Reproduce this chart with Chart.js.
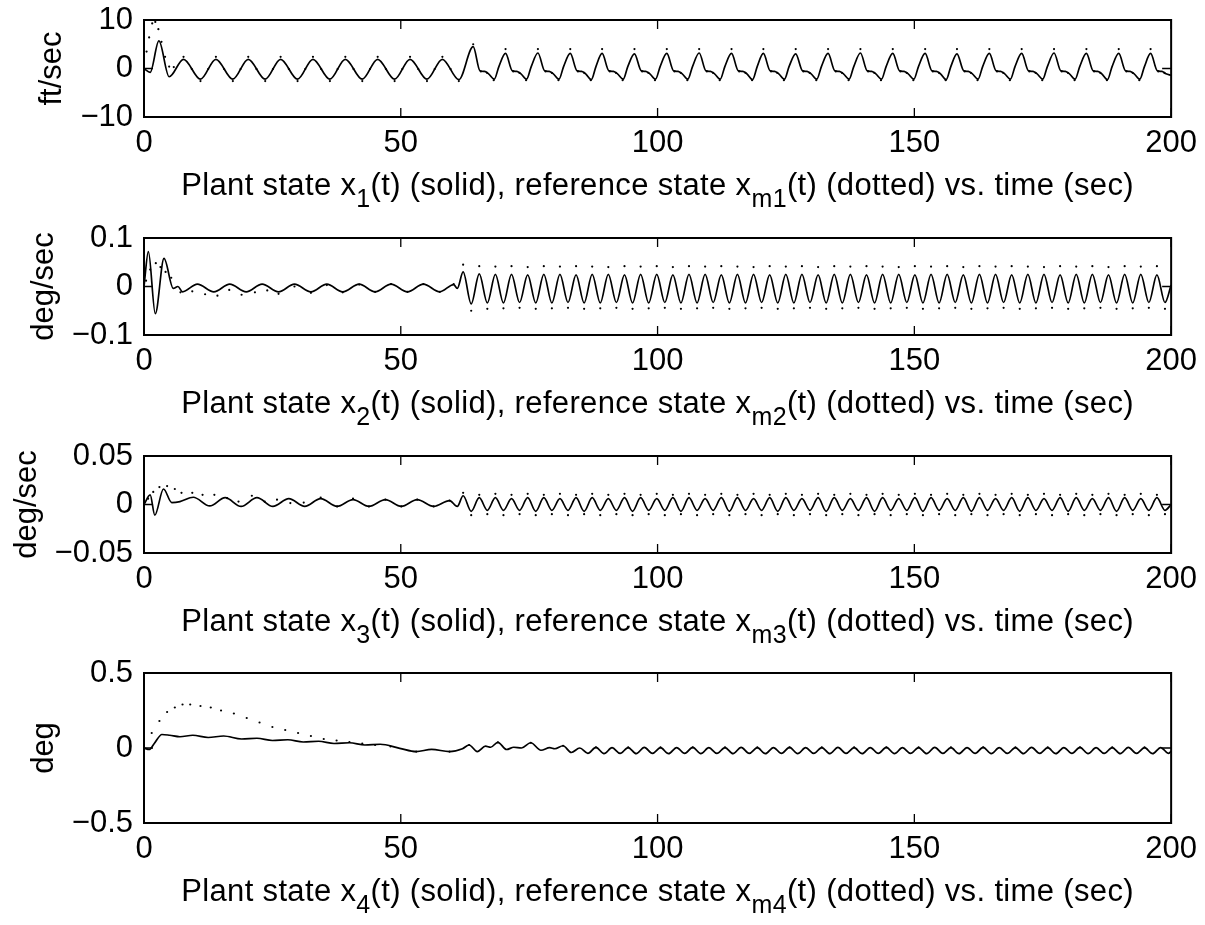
<!DOCTYPE html>
<html>
<head>
<meta charset="utf-8">
<script src="https://cdn.jsdelivr.net/npm/chart.js@4.4.0/dist/chart.umd.min.js"></script>
<style>
  body { margin: 0; background: #fff; width: 1205px; height: 925px; position: relative; overflow: hidden; }
  canvas { position: absolute; left: 0; }
</style>
</head>
<body>
<canvas id="p1"></canvas>
<canvas id="p2"></canvas>
<canvas id="p3"></canvas>
<canvas id="p4"></canvas>
<script>
// ---- axis ticks ----
const xTicks = [0, 50, 100, 150, 200];
const yTicks1 = [-10, 0, 10],      yLabels1 = ['\u221210', '0', '10'];
const yTicks2 = [-0.1, 0, 0.1],    yLabels2 = ['\u22120.1', '0', '0.1'];
const yTicks3 = [-0.05, 0, 0.05],  yLabels3 = ['\u22120.05', '0', '0.05'];
const yTicks4 = [-0.5, 0, 0.5],    yLabels4 = ['\u22120.5', '0', '0.5'];

// ---- x1 (ft/sec) ----
const x1Time = [
  0, 1.2, 2.9, 4.9, 7.7, 11.0, 14.0, 17.3, 20.3, 23.6, 26.6, 29.9, 32.9, 36.2, 39.2, 42.5, 45.5, 48.8, 51.8, 55.1, 58.1, 61.3,
  64.1, 65.4, 66.3, 67.1, 68.2, 69.1,
  70.4, 71.7, 72.6, 73.4, 74.5, 75.4,
  76.7, 78.0, 78.9, 79.7, 80.8, 81.7,
  83.0, 84.3, 85.2, 86.0, 87.1, 88.0,
  89.2, 90.5, 91.4, 92.2, 93.3, 94.2,
  95.5, 96.8, 97.7, 98.5, 99.6, 100.5,
  101.8, 103.1, 104.0, 104.8, 105.9, 106.8,
  108.1, 109.4, 110.3, 111.1, 112.2, 113.1,
  114.4, 115.7, 116.6, 117.4, 118.5, 119.4,
  120.6, 121.9, 122.8, 123.6, 124.7, 125.6,
  126.9, 128.2, 129.1, 129.9, 131.0, 131.9,
  133.2, 134.5, 135.4, 136.2, 137.3, 138.2,
  139.5, 140.8, 141.7, 142.5, 143.6, 144.5,
  145.8, 147.1, 148.0, 148.8, 149.9, 150.8,
  152.1, 153.4, 154.3, 155.1, 156.2, 157.1,
  158.3, 159.6, 160.5, 161.3, 162.4, 163.3,
  164.6, 165.9, 166.8, 167.6, 168.7, 169.6,
  170.9, 172.2, 173.1, 173.9, 175.0, 175.9,
  177.2, 178.5, 179.4, 180.2, 181.3, 182.2,
  183.5, 184.8, 185.7, 186.5, 187.6, 188.5,
  189.8, 191.1, 192.0, 192.8, 193.9, 194.8,
  196.0, 197.3, 198.2, 199.0, 200.0
];
const x1Solid = [
  0, -0.8, 5.7, -1.7, 1.9, -2.2, 1.9, -2.2, 1.9, -2.2, 1.9, -2.2, 1.9, -2.2, 1.9, -2.2, 1.9, -2.2, 1.9, -2.2, 1.9, -2.3,
  4.5, -0.45, -0.6, -1.1, -2.2, 0.4,
  3.1, -0.45, -0.6, -1.1, -2.2, 0.4,
  3.2, -0.45, -0.6, -1.1, -2.2, 0.4,
  3.1, -0.45, -0.6, -1.1, -2.3, 0.4,
  3.1, -0.45, -0.6, -1.1, -2.2, 0.4,
  3.0, -0.45, -0.6, -1.1, -2.2, 0.4,
  3.1, -0.45, -0.6, -1.1, -2.2, 0.4,
  3.2, -0.45, -0.6, -1.1, -2.2, 0.4,
  3.1, -0.45, -0.6, -1.1, -2.3, 0.4,
  3.1, -0.45, -0.6, -1.1, -2.2, 0.4,
  3.0, -0.45, -0.6, -1.1, -2.2, 0.4,
  3.1, -0.45, -0.6, -1.1, -2.2, 0.4,
  3.2, -0.45, -0.6, -1.1, -2.2, 0.4,
  3.1, -0.45, -0.6, -1.1, -2.2, 0.4,
  3.1, -0.45, -0.6, -1.1, -2.3, 0.4,
  3.0, -0.45, -0.6, -1.1, -2.2, 0.4,
  3.1, -0.45, -0.6, -1.1, -2.2, 0.4,
  3.1, -0.45, -0.6, -1.1, -2.2, 0.4,
  3.2, -0.45, -0.6, -1.1, -2.2, 0.4,
  3.1, -0.45, -0.6, -1.1, -2.3, 0.4,
  3.1, -0.45, -0.6, -1.1, -2.2, 0.4,
  3.1, -0.45, -0.6, -1.1, -1.4
];
const x1DotTime = [
  0, 0.5, 1.0, 1.6, 2.2, 2.8, 3.4, 4.1, 4.9, 5.8,
  7.7, 9.3, 11.0, 12.5, 14.0, 15.6, 17.3, 18.8, 20.3, 21.9, 23.6, 25.1, 26.6, 28.2, 29.9, 31.4,
  32.9, 34.5, 36.2, 37.7, 39.2, 40.8, 42.5, 44.0, 45.5, 47.1, 48.8, 50.3, 51.8, 53.4, 55.1, 56.6,
  58.1, 59.7, 61.3,
  64.1, 65.6, 66.8, 68.1,
  70.4, 71.9, 73.1, 74.4,
  76.7, 78.2, 79.4, 80.7,
  83.0, 84.5, 85.7, 87.0,
  89.2, 90.7, 91.9, 93.2,
  95.5, 97.0, 98.2, 99.5,
  101.8, 103.3, 104.5, 105.8,
  108.1, 109.6, 110.8, 112.1,
  114.4, 115.9, 117.1, 118.4,
  120.6, 122.1, 123.3, 124.6,
  126.9, 128.4, 129.6, 130.9,
  133.2, 134.7, 135.9, 137.2,
  139.5, 141.0, 142.2, 143.5,
  145.8, 147.3, 148.5, 149.8,
  152.1, 153.6, 154.8, 156.1,
  158.3, 159.8, 161.0, 162.3,
  164.6, 166.1, 167.3, 168.6,
  170.9, 172.4, 173.6, 174.9,
  177.2, 178.7, 179.9, 181.2,
  183.5, 185.0, 186.2, 187.5,
  189.8, 191.3, 192.5, 193.8,
  196.0, 197.5, 198.7
];
const x1Dotted = [
  0, 3.5, 6.4, 9.3, 9.6, 8.1, 5.5, 2.4, 0.4, 0.3,
  2.4, -0.1, -2.6, -0.1, 2.4, -0.1, -2.6, -0.1, 2.4, -0.1, -2.6, -0.1, 2.4, -0.1, -2.6, -0.1,
  2.4, -0.1, -2.6, -0.1, 2.4, -0.1, -2.6, -0.1, 2.4, -0.1, -2.6, -0.1, 2.4, -0.1, -2.6, -0.1,
  2.4, -0.1, -2.6,
  5.0, -0.6, -0.9, -2.4,
  4.0, -0.6, -0.9, -2.4,
  4.0, -0.6, -0.9, -2.4,
  4.0, -0.6, -0.9, -2.4,
  4.0, -0.6, -0.9, -2.4,
  4.0, -0.6, -0.9, -2.4,
  4.0, -0.6, -0.9, -2.4,
  4.0, -0.6, -0.9, -2.4,
  4.0, -0.6, -0.9, -2.4,
  4.0, -0.6, -0.9, -2.4,
  4.0, -0.6, -0.9, -2.4,
  4.0, -0.6, -0.9, -2.4,
  4.0, -0.6, -0.9, -2.4,
  4.0, -0.6, -0.9, -2.4,
  4.0, -0.6, -0.9, -2.4,
  4.0, -0.6, -0.9, -2.4,
  4.0, -0.6, -0.9, -2.4,
  4.0, -0.6, -0.9, -2.4,
  4.0, -0.6, -0.9, -2.4,
  4.0, -0.6, -0.9, -2.4,
  4.0, -0.6, -0.9, -2.4,
  4.0, -0.6, -0.9
];

// ---- fast oscillation after t = 62 (peaks / troughs), shared by x2, x3 ----
const fastTime = [
  62.14, 63.71, 65.28, 66.85, 68.42, 69.99, 71.56, 73.13, 74.71, 76.28,
  77.85, 79.42, 80.99, 82.56, 84.13, 85.70, 87.27, 88.84, 90.41, 91.98,
  93.56, 95.13, 96.70, 98.27, 99.84, 101.41, 102.98, 104.55, 106.12, 107.69,
  109.26, 110.83, 112.41, 113.98, 115.55, 117.12, 118.69, 120.26, 121.83, 123.40,
  124.97, 126.54, 128.11, 129.68, 131.26, 132.83, 134.40, 135.97, 137.54, 139.11,
  140.68, 142.25, 143.82, 145.39, 146.96, 148.53, 150.10, 151.67, 153.25, 154.82,
  156.39, 157.96, 159.53, 161.10, 162.67, 164.24, 165.81, 167.38, 168.95, 170.52,
  172.10, 173.67, 175.24, 176.81, 178.38, 179.95, 181.52, 183.09, 184.66, 186.23,
  187.80, 189.37, 190.95, 192.52, 194.09, 195.66, 197.23, 198.80
];

// ---- x2 (deg/sec) ----
const x2EarlyTime = [0, 0.85, 2.2, 3.9, 5.7, 6.6, 7.5, 10.4, 13.6, 16.7, 19.9, 23.0, 26.2, 29.3, 32.5,
  35.6, 38.7, 41.9, 45.0, 48.1, 51.3, 54.4, 57.6, 60.3, 61.0];
const x2EarlySolid = [0, 0.072, -0.056, 0.058, -0.004, 0.0, -0.011, 0.005, -0.011, 0.005, -0.011, 0.005, -0.011, 0.005, -0.011,
  0.005, -0.011, 0.005, -0.011, 0.005, -0.011, 0.005, -0.011, 0.004, -0.004];
const x2FastSolid = [
  0.030, -0.036, 0.026, -0.034, 0.025, -0.034, 0.025, -0.033, 0.024, -0.034,
  0.025, -0.034, 0.025, -0.033, 0.024, -0.034, 0.025, -0.034, 0.025, -0.033,
  0.024, -0.034, 0.025, -0.034, 0.025, -0.033, 0.024, -0.034, 0.025, -0.034,
  0.025, -0.033, 0.024, -0.034, 0.025, -0.034, 0.025, -0.033, 0.024, -0.034,
  0.025, -0.034, 0.025, -0.033, 0.024, -0.034, 0.025, -0.034, 0.025, -0.033,
  0.024, -0.034, 0.025, -0.034, 0.025, -0.033, 0.024, -0.034, 0.025, -0.034,
  0.025, -0.033, 0.024, -0.034, 0.025, -0.034, 0.025, -0.033, 0.024, -0.034,
  0.025, -0.034, 0.025, -0.033, 0.024, -0.034, 0.025, -0.034, 0.025, -0.033,
  0.024, -0.034, 0.025, -0.034, 0.025, -0.033, 0.024, -0.033
];
const x2EndTime = [200], x2EndSolid = [0.003];
const x2DotEarlyTime = [0, 0.4, 1.2, 2.3, 3.2, 4.2, 5.3, 7.1, 9.4, 11.9, 14.3, 16.6, 19.0, 21.6, 24.0, 26.2,
  29.3, 32.5, 35.6, 38.7, 41.9, 45.0, 48.1, 51.3, 54.4, 57.6, 60.3];
const x2DotEarly = [0, 0.012, 0.035, 0.048, 0.040, 0.030, 0.018, -0.012, -0.010, -0.016, -0.019, -0.007, -0.017, -0.012, -0.008, -0.015,
  0.0, -0.013, 0.003, -0.012, 0.004, -0.011, 0.005, -0.011, 0.005, -0.011, 0.005];
const x2FastDotted = [
  0.045, -0.050, 0.042, -0.046, 0.041, -0.045, 0.042, -0.044, 0.040, -0.046,
  0.042, -0.045, 0.041, -0.044, 0.042, -0.046, 0.041, -0.045, 0.040, -0.044,
  0.042, -0.046, 0.041, -0.045, 0.042, -0.044, 0.040, -0.046, 0.042, -0.045,
  0.041, -0.044, 0.042, -0.046, 0.041, -0.045, 0.040, -0.044, 0.042, -0.046,
  0.041, -0.045, 0.042, -0.044, 0.040, -0.046, 0.042, -0.045, 0.041, -0.044,
  0.042, -0.046, 0.041, -0.045, 0.040, -0.044, 0.042, -0.046, 0.041, -0.045,
  0.042, -0.044, 0.040, -0.046, 0.042, -0.045, 0.041, -0.044, 0.042, -0.046,
  0.041, -0.045, 0.040, -0.044, 0.042, -0.046, 0.041, -0.045, 0.042, -0.044,
  0.040, -0.046, 0.042, -0.045, 0.041, -0.044, 0.042, -0.046
];

// ---- x3 (deg/sec) ----
const x3EarlyTime = [0, 1.2, 2.1, 3.8, 5.4, 7.0, 9.6, 12.8, 15.8, 18.9, 22.0, 25.1, 28.2, 31.3, 34.4, 37.6,
  40.7, 43.8, 47.0, 50.1, 53.2, 56.4, 59.5, 61.0];
const x3EarlySolid = [0, 0.010, -0.011, 0.016, 0.002, 0.003, 0.0075, -0.0015, 0.007, -0.002, 0.007, -0.002, 0.006, -0.002, 0.006, -0.002,
  0.005, -0.002, 0.005, -0.002, 0.005, -0.002, 0.004, -0.002];
const x3FastSolid = [
  0.009, -0.007, 0.007, -0.006, 0.007, -0.006, 0.006, -0.006, 0.007, -0.007,
  0.007, -0.006, 0.006, -0.006, 0.007, -0.007, 0.007, -0.006, 0.006, -0.006,
  0.007, -0.007, 0.007, -0.006, 0.006, -0.006, 0.007, -0.007, 0.007, -0.006,
  0.006, -0.006, 0.007, -0.007, 0.007, -0.006, 0.006, -0.006, 0.007, -0.007,
  0.007, -0.006, 0.006, -0.006, 0.007, -0.007, 0.007, -0.006, 0.006, -0.006,
  0.007, -0.007, 0.007, -0.006, 0.006, -0.006, 0.007, -0.007, 0.007, -0.006,
  0.006, -0.006, 0.007, -0.007, 0.007, -0.006, 0.006, -0.006, 0.007, -0.007,
  0.007, -0.006, 0.006, -0.006, 0.007, -0.007, 0.007, -0.006, 0.006, -0.006,
  0.007, -0.007, 0.007, -0.006, 0.006, -0.006, 0.007, -0.006
];
const x3EndTime = [200], x3EndSolid = [0.0];
const x3DotEarlyTime = [0, 0.8, 1.8, 3.0, 4.5, 6.0, 7.3, 9.4, 11.4, 13.7, 16.2, 18.4, 21.0, 23.5, 25.9, 28.5,
  31.1, 34.4, 37.6, 40.7, 43.8, 47.0, 50.1, 53.2, 56.4, 59.5];
const x3DotEarly = [0, 0.006, 0.013, 0.018, 0.019, 0.016, 0.012, 0.012, 0.010, 0.010, 0.0065, 0.003, 0.009, 0.003, 0.005, 0.0015,
  0.002, 0.007, -0.002, 0.006, -0.002, 0.005, -0.002, 0.005, -0.002, 0.004];
const x3FastDotted = [
  0.012, -0.011, 0.010, -0.010, 0.011, -0.011, 0.010, -0.010, 0.011, -0.011,
  0.010, -0.010, 0.011, -0.011, 0.010, -0.010, 0.011, -0.011, 0.010, -0.010,
  0.011, -0.011, 0.010, -0.010, 0.011, -0.011, 0.010, -0.010, 0.011, -0.011,
  0.010, -0.010, 0.011, -0.011, 0.010, -0.010, 0.011, -0.011, 0.010, -0.010,
  0.011, -0.011, 0.010, -0.010, 0.011, -0.011, 0.010, -0.010, 0.011, -0.011,
  0.010, -0.010, 0.011, -0.011, 0.010, -0.010, 0.011, -0.011, 0.010, -0.010,
  0.011, -0.011, 0.010, -0.010, 0.011, -0.011, 0.010, -0.010, 0.011, -0.011,
  0.010, -0.010, 0.011, -0.011, 0.010, -0.010, 0.011, -0.011, 0.010, -0.010,
  0.011, -0.011, 0.010, -0.010, 0.011, -0.011, 0.010, -0.010
];

// ---- x4 (deg) ----
const x4Time = [
  0, 1.0, 2.0, 3.5, 5.0, 7.0, 9.5, 12.5, 15.5, 19.0,
  22.0, 25.0, 28.0, 31.0, 34.0, 37.0, 40.0, 43.0, 46.0, 49.8,
  53.0, 56.0, 59.5, 62.0, 63.3, 64.9, 66.5, 67.5, 68.9, 70.6,
  72.0, 73.5, 75.3, 77.3, 79.0, 80.0, 81.6, 83.2, 84.85,
  86.43, 88.00, 89.57, 91.14, 92.71, 94.28, 95.85, 97.42, 98.99, 100.57,
  102.14, 103.71, 105.28, 106.85, 108.42, 109.99, 111.56, 113.13, 114.70, 116.27,
  117.84, 119.42, 120.99, 122.56, 124.13, 125.70, 127.27, 128.84, 130.41, 131.98,
  133.55, 135.12, 136.69, 138.27, 139.84, 141.41, 142.98, 144.55, 146.12, 147.69,
  149.26, 150.83, 152.40, 153.97, 155.54, 157.12, 158.69, 160.26, 161.83, 163.40,
  164.97, 166.54, 168.11, 169.68, 171.25, 172.82, 174.39, 175.97, 177.54, 179.11,
  180.68, 182.25, 183.82, 185.39, 186.96, 188.53, 190.10, 191.67, 193.24, 194.82,
  196.39, 197.96, 199.53, 200
];
const x4Solid = [
  0, -0.01, 0.03, 0.09, 0.085, 0.075, 0.085, 0.07, 0.08, 0.06,
  0.065, 0.05, 0.055, 0.04, 0.045, 0.03, 0.035, 0.02, 0.025, -0.002,
  -0.024, -0.009, -0.024, -0.005, 0.02, -0.024, 0.012, 0.005, 0.038, -0.01,
  0.005, 0.0, 0.035, -0.015, 0.002, -0.005, 0.015, -0.03, 0.0,
  -0.036, 0.004, -0.038, 0.002, -0.036, 0.003, -0.038, 0.004, -0.036, 0.002,
  -0.038, 0.003, -0.036, 0.004, -0.038, 0.002, -0.036, 0.003, -0.038, 0.004,
  -0.036, 0.002, -0.038, 0.003, -0.036, 0.004, -0.038, 0.002, -0.036, 0.003,
  -0.038, 0.004, -0.036, 0.002, -0.038, 0.003, -0.036, 0.004, -0.038, 0.002,
  -0.036, 0.003, -0.038, 0.004, -0.036, 0.002, -0.038, 0.003, -0.036, 0.004,
  -0.038, 0.002, -0.036, 0.003, -0.038, 0.004, -0.036, 0.002, -0.038, 0.003,
  -0.036, 0.004, -0.038, 0.002, -0.036, 0.003, -0.038, 0.004, -0.036, 0.002,
  -0.038, 0.003, -0.036, -0.02
];
const x4DotTime = [
  0, 1.5, 3.0, 4.5, 6.0, 7.5, 9.0, 11.0, 13.0, 15.0, 17.5, 20.0, 22.5, 25.0, 27.5, 30.0,
  32.5, 35.0, 37.5, 40.0, 42.5, 45.0, 48.0,
  53.0, 59.5, 63.3, 68.9, 75.3, 81.6,
  88.00, 94.28, 100.57, 106.85, 113.13, 119.42, 125.70, 131.98, 138.27, 144.55,
  150.83, 157.12, 163.40, 169.68, 175.97, 182.25, 188.53, 194.82
];
const x4Dotted = [
  0, 0.10, 0.18, 0.24, 0.27, 0.29, 0.29, 0.28, 0.27, 0.25, 0.23, 0.20, 0.17, 0.14, 0.12, 0.10,
  0.08, 0.06, 0.05, 0.04, 0.03, 0.02, 0.01,
  -0.024, -0.024, 0.02, 0.038, 0.035, 0.015,
  0.004, 0.004, 0.004, 0.004, 0.004, 0.004, 0.004, 0.004, 0.004, 0.004,
  0.004, 0.004, 0.004, 0.004, 0.004, 0.004, 0.004, 0.004
];

// ---- build ----
const FONT = '"Liberation Sans", Arial, Helvetica, sans-serif';
Chart.defaults.font.family = FONT;
Chart.defaults.font.size = 31;
Chart.defaults.color = '#000';

const TOP_PAD = 40;   // room above each box (more than the y-axis label overhang)
const BOTTOM = 100;   // room under each box for tick labels + x title

function pts(ts, vs) {
  return ts.map((t, i) => ({ x: t, y: vs[i] }));
}

function makePanel(id, boxTop, boxH, solid, dotted, yTicks, yLabels, yTitle, n) {
  const canvas = document.getElementById(id);
  canvas.width = 1205;
  canvas.height = TOP_PAD + boxH + BOTTOM;
  canvas.style.top = (boxTop - TOP_PAD) + 'px';

  const frame = {
    id: 'frame' + n,
    afterDraw(chart) {
      const { ctx, chartArea: a } = chart;
      const xs = chart.scales.x, ys = chart.scales.y;
      ctx.save();
      ctx.strokeStyle = '#000';
      ctx.lineWidth = 1.3;
      ctx.beginPath();
      xTicks.forEach(v => {
        const p = xs.getPixelForValue(v);
        ctx.moveTo(p, a.bottom); ctx.lineTo(p, a.bottom - 9);
        ctx.moveTo(p, a.top); ctx.lineTo(p, a.top + 9);
      });
      yTicks.forEach(v => {
        const p = ys.getPixelForValue(v);
        ctx.moveTo(a.left, p); ctx.lineTo(a.left + 9, p);
        ctx.moveTo(a.right, p); ctx.lineTo(a.right - 9, p);
      });
      ctx.stroke();
      ctx.lineWidth = 2;
      ctx.strokeRect(a.left, a.top, a.right - a.left, a.bottom - a.top);

      // y title, just left of the widest tick label
      ctx.fillStyle = '#000';
      ctx.font = '31px ' + FONT;
      const wMax = Math.max(...yLabels.map(s => ctx.measureText(s).width));
      ctx.save();
      ctx.translate(a.left - 11 - wMax - 19, (a.top + a.bottom) / 2);
      ctx.rotate(-Math.PI / 2);
      ctx.textAlign = 'center';
      ctx.textBaseline = 'alphabetic';
      ctx.fillText(yTitle, 0, 0);
      ctx.restore();

      // x title with subscripts
      const parts = [
        ['Plant state x', false], [n, true], ['(t) (solid), reference state x', false],
        ['m' + n, true], ['(t) (dotted) vs. time (sec)', false]
      ];
      if ('letterSpacing' in ctx) ctx.letterSpacing = '0.35px';
      let w = 0;
      parts.forEach(([s, sub]) => {
        ctx.font = (sub ? '25px ' : '31px ') + FONT;
        w += ctx.measureText(s).width;
      });
      let x = (a.left + a.right) / 2 - w / 2;
      const base = a.bottom + 78;
      ctx.textAlign = 'left';
      ctx.textBaseline = 'alphabetic';
      parts.forEach(([s, sub]) => {
        ctx.font = (sub ? '25px ' : '31px ') + FONT;
        ctx.fillText(s, x, sub ? base + 12 : base);
        x += ctx.measureText(s).width;
      });
      ctx.restore();
    }
  };

  return new Chart(canvas, {
    type: 'line',
    data: {
      datasets: [
        { data: solid, borderColor: '#000', borderWidth: 1.7, pointRadius: 0,
          cubicInterpolationMode: 'monotone', fill: false },
        { data: dotted, showLine: false, pointRadius: 1.1, pointBorderWidth: 0,
          pointBackgroundColor: '#000', borderColor: '#000' }
      ]
    },
    options: {
      responsive: false,
      animation: false,
      layout: { padding: { left: 0, right: 32, top: TOP_PAD, bottom: 0 } },
      plugins: { legend: { display: false }, tooltip: { enabled: false } },
      scales: {
        x: {
          type: 'linear', min: 0, max: 200,
          afterBuildTicks: s => { s.ticks = xTicks.map(v => ({ value: v })); },
          afterFit: s => { s.height = BOTTOM; },
          grid: { display: false, drawTicks: false },
          border: { display: false },
          ticks: { padding: 8, maxRotation: 0, autoSkip: false, callback: v => String(v) }
        },
        y: {
          type: 'linear', min: yTicks[0], max: yTicks[yTicks.length - 1],
          afterBuildTicks: s => { s.ticks = yTicks.map(v => ({ value: v })); },
          afterFit: s => { s.width = 144; },
          grid: { display: false, drawTicks: false },
          border: { display: false },
          ticks: { padding: 11, autoSkip: false,
            callback: v => { const i = yTicks.indexOf(v); return i >= 0 ? yLabels[i] : ''; } }
        }
      }
    },
    plugins: [frame]
  });
}

makePanel('p1', 20, 97,
  pts(x1Time, x1Solid), pts(x1DotTime, x1Dotted),
  yTicks1, yLabels1, 'ft/sec', '1');

makePanel('p2', 238, 97,
  pts(x2EarlyTime.concat(fastTime, x2EndTime), x2EarlySolid.concat(x2FastSolid, x2EndSolid)),
  pts(x2DotEarlyTime.concat(fastTime), x2DotEarly.concat(x2FastDotted)),
  yTicks2, yLabels2, 'deg/sec', '2');

makePanel('p3', 456, 97,
  pts(x3EarlyTime.concat(fastTime, x3EndTime), x3EarlySolid.concat(x3FastSolid, x3EndSolid)),
  pts(x3DotEarlyTime.concat(fastTime), x3DotEarly.concat(x3FastDotted)),
  yTicks3, yLabels3, 'deg/sec', '3');

makePanel('p4', 673, 150,
  pts(x4Time, x4Solid), pts(x4DotTime, x4Dotted),
  yTicks4, yLabels4, 'deg', '4');
</script>
</body>
</html>
